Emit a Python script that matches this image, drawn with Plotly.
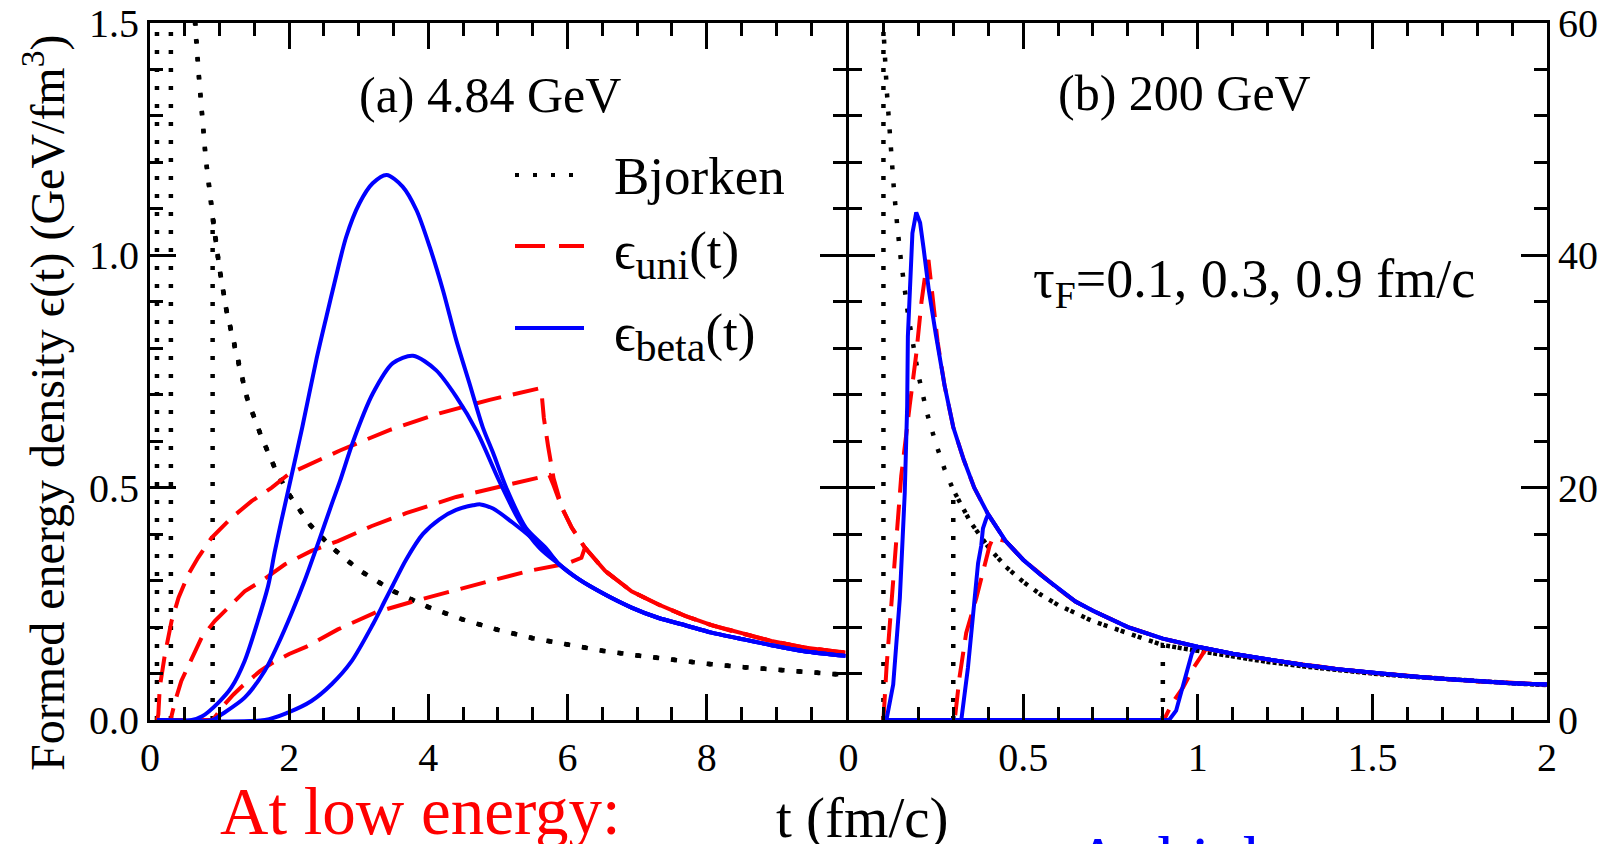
import plotly.graph_objects as go

# ---------------- data ----------------
tau_values = [0.1, 0.3, 0.9]

# Panel (a) 4.84 GeV -- Bjorken epsilon(t)
bj_a_t = [0.1, 0.2, 0.3, 0.4, 0.5, 0.6, 0.65, 0.7, 0.8, 0.9, 1.0, 1.1, 1.25, 1.4, 1.6, 1.8,
          2.0, 2.3, 2.6, 3.0, 3.5, 4.0, 4.5, 5.0, 5.5, 6.0, 6.5, 7.0, 7.5, 8.0, 8.5, 9.0, 9.5, 10.0]
bj_a_e = [9.7, 4.85, 3.23, 2.43, 1.94, 1.62, 1.49, 1.39, 1.21, 1.08, 0.97, 0.88, 0.78, 0.69, 0.61, 0.54,
          0.485, 0.42, 0.373, 0.323, 0.277, 0.243, 0.216, 0.194, 0.176, 0.162, 0.149, 0.139, 0.129, 0.121,
          0.114, 0.108, 0.102, 0.097]

# Panel (a) eps_uni
uni_a1_t = [0.10, 0.12, 0.14, 0.215, 0.31, 0.41, 0.55, 0.69, 0.885, 1.17, 1.46, 1.75, 2.0, 2.73, 3.44,
            4.16, 4.88, 5.6, 5.63, 5.66, 5.72, 5.80]
uni_a1_e = [0.0, 0.012, 0.07, 0.142, 0.213, 0.263, 0.313, 0.349, 0.392, 0.435, 0.471, 0.50, 0.53, 0.58,
            0.624, 0.66, 0.689, 0.714, 0.70, 0.65, 0.59, 0.52]
uni_a2_t = [0.10, 0.30, 0.31, 0.36, 0.45, 0.60, 0.74, 0.93, 1.12, 1.36, 1.60, 1.94, 2.32, 2.70, 3.18,
            3.68, 4.40, 5.12, 5.74, 5.80]
uni_a2_e = [0.0, 0.0, 0.009, 0.04, 0.084, 0.134, 0.177, 0.213, 0.242, 0.277, 0.299, 0.335, 0.364, 0.385,
            0.417, 0.445, 0.48, 0.506, 0.527, 0.505]
uni_a3_t = [0.10, 0.90, 0.95, 1.05, 1.20, 1.32, 1.58, 1.75, 2.0, 2.25, 2.70, 3.25, 3.78, 4.33, 4.88,
            5.48, 6.0, 6.2]
uni_a3_e = [0.0, 0.0, 0.01, 0.03, 0.055, 0.072, 0.105, 0.122, 0.142, 0.158, 0.195, 0.232, 0.255, 0.278,
            0.299, 0.322, 0.337, 0.349]
uni_a_tail_t = [5.92, 6.06, 6.25, 6.54, 6.92, 7.3, 7.69, 8.07, 8.45, 8.93, 9.4, 10.0]
uni_a_tail_e = [0.457, 0.414, 0.371, 0.321, 0.277, 0.249, 0.224, 0.204, 0.188, 0.17, 0.156, 0.145]

# Panel (a) eps_beta
beta_a1_t = [0.10, 0.60, 0.75, 0.98, 1.17, 1.36, 1.55, 1.70, 1.79, 1.89, 2.01, 2.19, 2.39, 2.535, 2.65,
             2.82, 3.01, 3.2, 3.4, 3.63, 3.83, 4.02, 4.21, 4.40, 4.59, 4.78, 4.93, 5.12, 5.40, 5.69]
beta_a1_e = [0.0, 0.0, 0.008, 0.037, 0.07, 0.127, 0.213, 0.29, 0.36, 0.43, 0.51, 0.631, 0.775, 0.868,
             0.94, 1.04, 1.112, 1.155, 1.173, 1.148, 1.097, 1.018, 0.925, 0.818, 0.725, 0.631, 0.575,
             0.50, 0.414, 0.37]
beta_a2_t = [0.10, 0.90, 1.03, 1.36, 1.65, 1.84, 2.03, 2.22, 2.41, 2.61, 2.73, 2.92, 3.2, 3.49, 3.78,
             4.11, 4.40, 4.70, 5.02, 5.31, 5.6]
beta_a2_e = [0.0, 0.0, 0.012, 0.048, 0.106, 0.163, 0.228, 0.299, 0.378, 0.464, 0.514, 0.60, 0.702, 0.768,
             0.784, 0.753, 0.696, 0.62, 0.514, 0.428, 0.37]
beta_a3_t = [0.10, 1.65, 1.98, 2.32, 2.61, 2.89, 3.2, 3.37, 3.49, 3.68, 3.92, 4.16, 4.40, 4.64, 4.75,
             4.93, 5.21, 5.5, 5.79]
beta_a3_e = [0.0, 0.0, 0.016, 0.041, 0.077, 0.125, 0.205, 0.255, 0.29, 0.345, 0.40, 0.432, 0.452, 0.462,
             0.464, 0.455, 0.425, 0.39, 0.35]
beta_a_tail_t = [5.88, 6.16, 6.54, 6.92, 7.3, 7.69, 8.07, 8.45, 8.93, 9.4, 10.0]
beta_a_tail_e = [0.335, 0.303, 0.27, 0.242, 0.22, 0.204, 0.188, 0.176, 0.161, 0.148, 0.138]

# Panel (b) 200 GeV -- Bjorken
bj_b_t = [0.1, 0.11, 0.12, 0.13, 0.14, 0.15, 0.17, 0.2, 0.225, 0.25, 0.275, 0.3, 0.35, 0.4, 0.45, 0.5,
          0.55, 0.6, 0.7, 0.8, 0.9, 1.0, 1.1, 1.2, 1.3, 1.4, 1.5, 1.6, 1.7, 1.8, 1.9, 2.0]
bj_b_e = [59.5, 54.0, 49.5, 45.7, 42.4, 39.6, 35.0, 29.7, 26.4, 23.8, 21.6, 19.8, 17.0, 14.9, 13.2, 11.9,
          10.8, 9.9, 8.5, 7.45, 6.45, 5.95, 5.45, 5.0, 4.62, 4.3, 4.0, 3.76, 3.53, 3.34, 3.16, 3.0]

# Panel (b) shared tail of eps_uni / eps_beta
tail_b_t = [0.194, 0.205, 0.215, 0.23, 0.25, 0.275, 0.30, 0.33, 0.36, 0.40, 0.45, 0.50, 0.55, 0.60, 0.65,
            0.70, 0.80, 0.90, 1.00, 1.10, 1.20, 1.30, 1.40, 1.50, 1.60, 1.70, 1.80, 1.90, 2.00]
tail_b_e = [43.7, 42.8, 40.6, 37.0, 33.2, 28.8, 25.2, 22.4, 20.0, 17.7, 15.4, 13.8, 12.5, 11.3, 10.2,
            9.4, 8.0, 7.0, 6.3, 5.7, 5.2, 4.75, 4.38, 4.07, 3.78, 3.55, 3.34, 3.16, 3.05]

uni_b1_t = [0.10, 0.109, 0.128, 0.151, 0.175, 0.194, 0.209, 0.221, 0.229, 0.24, 0.255]
uni_b1_e = [0.0, 4.6, 12.0, 21.0, 27.0, 31.5, 36.0, 38.6, 39.6, 36.8, 32.6]
uni_b2_t = [0.10, 0.304, 0.318, 0.337, 0.366, 0.385, 0.404, 0.414]
uni_b2_e = [0.0, 0.0, 3.7, 7.5, 10.5, 12.9, 15.0, 15.7]
uni_b3_t = [0.10, 0.903, 0.928, 0.958, 0.988, 1.013, 1.023]
uni_b3_e = [0.0, 0.0, 1.5, 2.8, 4.5, 5.7, 6.1]

beta_b1_t = [0.10, 0.109, 0.128, 0.147, 0.161, 0.168, 0.17, 0.177, 0.183]
beta_b1_e = [0.0, 0.07, 3.05, 10.5, 19.5, 27.0, 33.0, 38.9, 41.9]
beta_b2_t = [0.10, 0.323, 0.342, 0.356, 0.371, 0.38, 0.385, 0.394]
beta_b2_e = [0.0, 0.0, 4.5, 9.0, 13.5, 15.0, 16.5, 17.3]
beta_b3_t = [0.10, 0.918, 0.938, 0.953, 0.968, 0.983, 0.99]
beta_b3_e = [0.0, 0.0, 0.8, 2.5, 4.3, 5.7, 6.1]

# ---------------- styling ----------------
FONT = "Liberation Serif"
RED = "#ff0000"
BLUE = "#0000ff"
BLACK = "#000000"
DOT = "4px,14px"
DASH = "26px,12px"
LW = 4


def join(rise_t, rise_e, tail_t, tail_e):
    last = rise_t[-1]
    xs = list(rise_t) + [t for t in tail_t if t > last]
    ys = list(rise_e) + [e for t, e in zip(tail_t, tail_e) if t > last]
    return xs, ys


def bjorken(tau, bt, be):
    xs = [tau] + [t for t in bt if t >= tau]
    ys = [0.0] + [e for t, e in zip(bt, be) if t >= tau]
    return xs, ys


fig = go.Figure()


def add(xs, ys, color, dash, xa, ya, shape="linear", width=LW):
    line = dict(color=color, width=width, dash=dash, shape=shape)
    if shape == "spline":
        line["smoothing"] = 0.8
    fig.add_trace(go.Scatter(x=xs, y=ys, mode="lines", xaxis=xa, yaxis=ya, line=line,
                             showlegend=False, hoverinfo="skip"))


# panel (a)
for tau in tau_values:
    x, y = bjorken(tau, bj_a_t, bj_a_e)
    add(x, y, BLACK, DOT, "x", "y", width=4.5)
for rt, re_ in [(uni_a1_t, uni_a1_e), (uni_a2_t, uni_a2_e), (uni_a3_t, uni_a3_e)]:
    x, y = join(rt, re_, uni_a_tail_t, uni_a_tail_e)
    add(x, y, RED, DASH, "x", "y")
for rt, re_ in [(beta_a1_t, beta_a1_e), (beta_a2_t, beta_a2_e), (beta_a3_t, beta_a3_e)]:
    x, y = join(rt, re_, beta_a_tail_t, beta_a_tail_e)
    add(x, y, BLUE, "solid", "x", "y", shape="spline")

# panel (b)
for tau in tau_values:
    x, y = bjorken(tau, bj_b_t, bj_b_e)
    add(x, y, BLACK, DOT, "x2", "y2", width=4.5)
for rt, re_ in [(uni_b1_t, uni_b1_e), (uni_b2_t, uni_b2_e), (uni_b3_t, uni_b3_e)]:
    x, y = join(rt, re_, tail_b_t, tail_b_e)
    add(x, y, RED, DASH, "x2", "y2")
for rt, re_ in [(beta_b1_t, beta_b1_e), (beta_b2_t, beta_b2_e), (beta_b3_t, beta_b3_e)]:
    x, y = join(rt, re_, tail_b_t, tail_b_e)
    add(x, y, BLUE, "solid", "x2", "y2")

# ---------------- layout ----------------
W, H = 1620, 844
PL, PR, PT, PB = 150, 1547, 23, 720          # plot area in page pixels
L, T = PL, PT
R = W - PR
B = H - PB
PW = PR - PL
PH = PB - PT
split_a = (845.5 - PL) / PW
split_b = (848.5 - PL) / PW


def px(X):
    return (X - PL) / PW


def py(Y):
    return (PB - Y) / PH


tickfont = dict(family=FONT, size=40, color=BLACK)
common = dict(showgrid=False, zeroline=False, showline=True, linewidth=3, linecolor=BLACK,
              mirror="allticks", ticks="inside", ticklen=26, tickwidth=3, tickcolor=BLACK,
              tickfont=tickfont, automargin=False, ticklabeloverflow="allow")


def minor(d):
    return dict(dtick=d, ticks="inside", ticklen=13, tickwidth=3, tickcolor=BLACK, showgrid=False)


fig.update_layout(
    width=W, height=H, autosize=False,
    margin=dict(l=L, r=R, t=T, b=B, pad=0),
    paper_bgcolor="white", plot_bgcolor="white",
    xaxis=dict(domain=[0, split_a], range=[0, 9.995], anchor="y", tick0=0, dtick=2,
               minor=minor(0.5), **common),
    yaxis=dict(domain=[0, 1], range=[0, 1.5], anchor="x", tick0=0, dtick=0.5, tickformat=".1f",
               minor=minor(0.1), **common),
    xaxis2=dict(domain=[split_b, 1], range=[0, 2], anchor="y2", tick0=0, dtick=0.5,
                minor=minor(0.1), **common),
    yaxis2=dict(domain=[0, 1], range=[0, 60], anchor="x2", side="right", tick0=0, dtick=20,
                minor=minor(4), **common),
)

ann = []
txt = dict(family=FONT, color=BLACK)

ann.append(dict(text="(a) 4.84 GeV", x=px(490), y=py(95), xref="paper", yref="paper",
                showarrow=False, xanchor="center", yanchor="middle", font=dict(size=50, **txt)))
ann.append(dict(text="(b) 200 GeV", x=px(1184), y=py(93), xref="paper", yref="paper",
                showarrow=False, xanchor="center", yanchor="middle", font=dict(size=50, **txt)))
ann.append(dict(text="τ<sub>F</sub>=0.1, 0.3, 0.9 fm/c", x=px(1031), y=py(282), xref="paper",
                yref="paper", showarrow=False, xanchor="left", yanchor="middle",
                font=dict(size=54, **txt)))

# legend
SUB = "<sub><span style='font-size:42px'>{}</span></sub>"
leg_rows = [("Bjorken", BLACK, DOT, 175, 176),
            ("ϵ" + SUB.format("uni") + "(t)", RED, "30px,14px", 246, 254),
            ("ϵ" + SUB.format("beta") + "(t)", BLUE, "solid", 328, 336)]
shapes = []
for label, col, dsh, ly, ty in leg_rows:
    shapes.append(dict(type="line", xref="paper", yref="paper", x0=px(515), x1=px(584),
                       y0=py(ly), y1=py(ly), line=dict(color=col, width=LW, dash=dsh)))
    ann.append(dict(text=label, x=px(612), y=py(ty), xref="paper", yref="paper",
                    showarrow=False, xanchor="left", yanchor="middle",
                    font=dict(size=53, **txt)))

# axis titles
ann.append(dict(text="Formed energy density ϵ(t) (GeV/fm<sup>3</sup>)", x=px(44), y=py(403),
                xref="paper", yref="paper", showarrow=False, textangle=-90,
                xanchor="center", yanchor="middle", font=dict(size=48, **txt)))
ann.append(dict(text="t (fm/c)", x=px(862), y=py(818), xref="paper", yref="paper",
                showarrow=False, xanchor="center", yanchor="middle", font=dict(size=57, **txt)))

# slide captions
ann.append(dict(text="At low energy:", x=px(420), y=py(811), xref="paper", yref="paper",
                showarrow=False, xanchor="center", yanchor="middle",
                font=dict(family=FONT, size=67, color=RED)))
ann.append(dict(text="At high energy:", x=px(1072), y=py(860), xref="paper", yref="paper",
                showarrow=False, xanchor="left", yanchor="middle",
                font=dict(family=FONT, size=67, color=BLUE)))

fig.update_layout(annotations=ann, shapes=shapes)

# remove the browser's default 8px page margin so the figure sits at the window origin
fig.write_html("out.html", config={"displayModeBar": False},
               post_script="document.body.style.margin='0';document.body.style.overflow='hidden';")
